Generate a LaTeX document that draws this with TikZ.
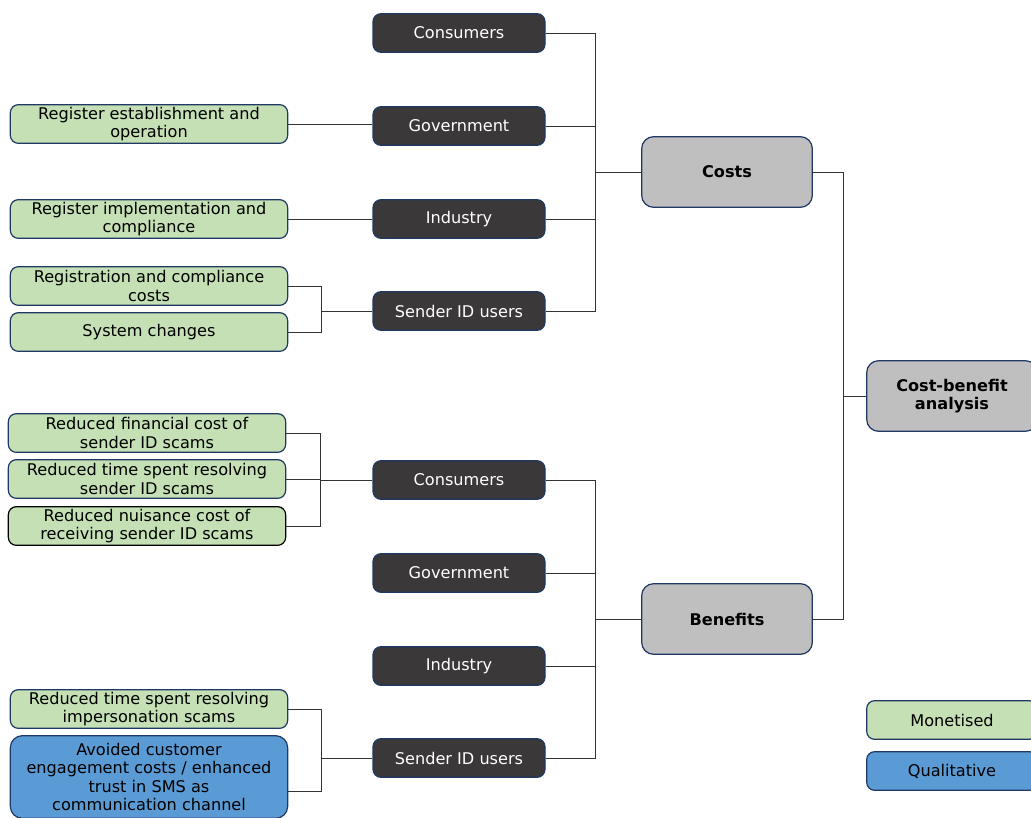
\documentclass[tikz,border=0pt]{standalone}
\usepackage{fontspec}
\setmainfont{DejaVu Sans}
\usetikzlibrary{positioning}
\definecolor{edgecol}{HTML}{1F3864}
\definecolor{darkfill}{HTML}{3A3838}
\definecolor{monecol}{HTML}{C5E0B4}
\definecolor{qualcol}{HTML}{5B9BD5}
\definecolor{topcol}{HTML}{BFBFBF}
\tikzstyle{box}=[draw=edgecol,line width=0.9pt,rounded corners=6pt,align=center,
  inner sep=0pt,font=\fontsize{12.1}{13.8}\selectfont]
\tikzstyle{party}=[box,fill=darkfill,text=white,minimum width=129pt,minimum height=29pt]
\tikzstyle{group}=[box,fill=topcol,font=\fontsize{12.1}{13.8}\selectfont\bfseries,
  rounded corners=9pt,minimum width=128pt,minimum height=53pt]
\tikzstyle{mone}=[box,fill=monecol,text=black,minimum width=208pt,minimum height=29pt]
\tikzstyle{qual}=[box,fill=qualcol,text=black,rounded corners=9pt,minimum width=208pt,minimum height=62pt]
\tikzstyle{link}=[draw=black!80,line width=0.6pt]

\begin{document}
\begin{tikzpicture}[x=0.75pt,y=-0.75pt]
  \useasboundingbox (0,0) rectangle (1031,817);
  % Top of the tree
  \node[group] (cba) at (952,396) {Cost-benefit\\analysis};
  \node[group] (costs) at (727,172) {Costs};
  \node[group] (bens) at (727,619) {Benefits};
  % Costs side
  \node[party] (ccons) at (459,33) {Consumers};
  \node[party] (cgov) at (459,126) {Government};
  \node[party] (cind) at (459,219) {Industry};
  \node[party] (csend) at (459,311) {Sender ID users};
  \node[mone] (creg) at (149,124) {Register establishment and\\operation};
  \node[mone] (cimpl) at (149,219) {Register implementation and\\compliance};
  \node[mone] (cregc) at (149,286) {Registration and compliance\\costs};
  \node[mone] (csys) at (149,332) {System changes};
  % Benefits side
  \node[party] (bcons) at (459,480) {Consumers};
  \node[party] (bgov) at (459,573) {Government};
  \node[party] (bind) at (459,666) {Industry};
  \node[party] (bsend) at (459,758) {Sender ID users};
  \node[mone] (bfin) at (147,433) {Reduced financial cost of\\sender ID scams};
  \node[mone] (btime) at (147,479) {Reduced time spent resolving\\sender ID scams};
  \node[mone,draw=black] (bnuis) at (147,526) {Reduced nuisance cost of\\receiving sender ID scams};
  \node[mone] (bimp) at (149,709) {Reduced time spent resolving\\impersonation scams};
  \node[qual] (btrust) at (149,777) {Avoided customer\\engagement costs / enhanced\\trust in SMS as\\communication channel};
  % Legend
  \node[mone,minimum width=128pt] (lmone) at (952,720) {Monetised};
  \node[mone,fill=qualcol,minimum width=128pt] (lqual) at (952,771) {Qualitative};
  % Connectors
  \draw[link] (cba.west) -- ++(-23,0) coordinate (tj);
  \draw[link] (costs.east) -| (tj) |- (bens.east);
  \draw[link] (costs.west) -- ++(-46,0) coordinate (cj);
  \foreach \n in {ccons,cgov,cind,csend} \draw[link] (cj) |- (\n.east);
  \draw[link] (bens.west) -- ++(-46,0) coordinate (bj);
  \foreach \n in {bcons,bgov,bind,bsend} \draw[link] (bj) |- (\n.east);
  \draw[link] (creg.east) -- (creg.east -| cgov.west);
  \draw[link] (cimpl) -- (cind);
  \draw[link] (csend.west) -- ++(-51,0) coordinate (sj);
  \foreach \n in {cregc,csys} \draw[link] (sj) |- (\n.east);
  \draw[link] (bcons.west) -- ++(-52,0) coordinate (uj);
  \foreach \n in {bfin,btime,bnuis} \draw[link] (uj) |- (\n.east);
  \draw[link] (bsend.west) -- ++(-51,0) coordinate (vj);
  \draw[link] (vj) |- (bimp.east);
  \draw[link] (vj) |- ([yshift=-10.5pt]btrust.east);
\end{tikzpicture}
\end{document}
